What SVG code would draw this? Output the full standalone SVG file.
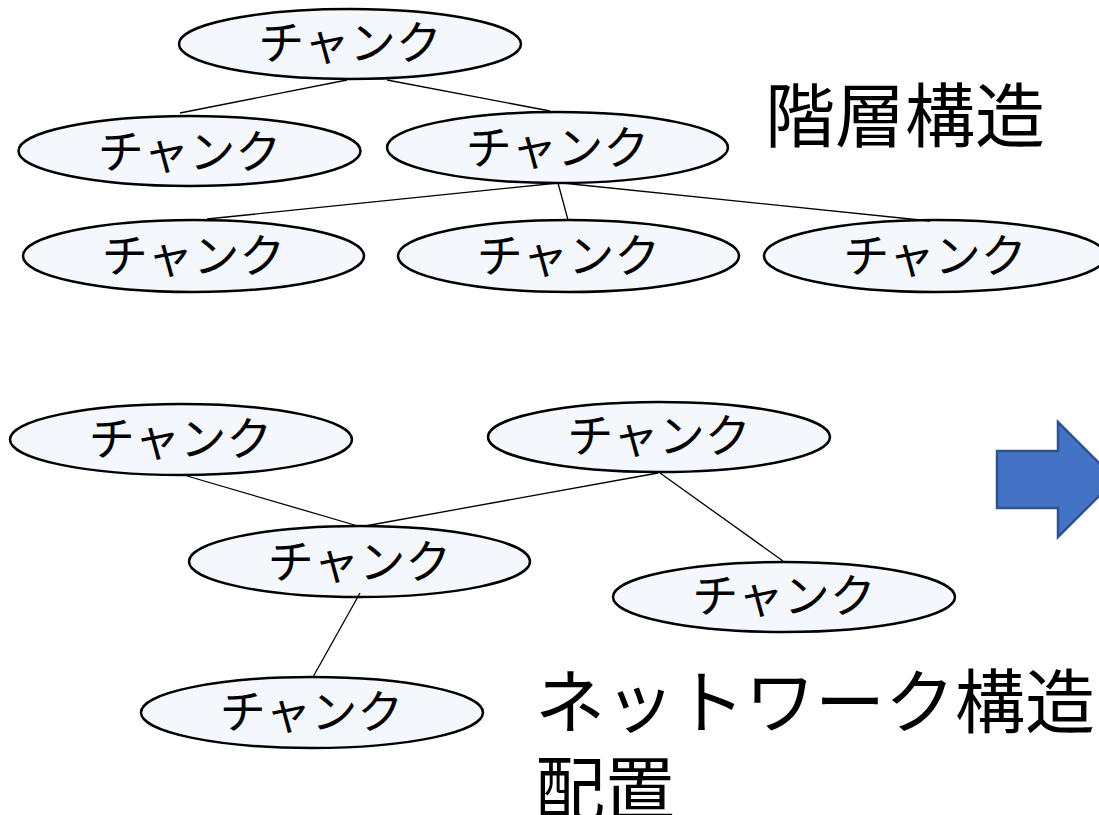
<svg xmlns="http://www.w3.org/2000/svg" width="1099" height="815" viewBox="0 0 1099 815">
<style>
.node ellipse{fill:#f4f7fc;stroke:#000;stroke-width:2.5}
.node text{font-family:"Noto Sans CJK JP","Noto Sans CJK SC",sans-serif;font-size:46px;text-anchor:middle;dominant-baseline:central;fill:#000}
.conn line{stroke:#000;stroke-width:1.3}
.label{font-family:"Noto Sans CJK JP","Noto Sans CJK SC",sans-serif;font-size:70px;fill:#000}
</style>
<rect width="1099" height="815" fill="#fff"/>
<g id="h-top" class="node"><ellipse cx="350" cy="44" rx="171" ry="35"/><text x="350" y="38.5">チャンク</text></g>
<g id="h-2a" class="node"><ellipse cx="189.5" cy="151" rx="171" ry="35"/><text x="189.5" y="147.5">チャンク</text></g>
<g id="h-2b" class="node"><ellipse cx="557.5" cy="147.5" rx="170.5" ry="35.5"/><text x="557.5" y="144">チャンク</text></g>
<g id="h-3a" class="node"><ellipse cx="193.5" cy="256" rx="170.5" ry="36"/><text x="193.5" y="251.5">チャンク</text></g>
<g id="h-3b" class="node"><ellipse cx="568.5" cy="256" rx="170.5" ry="36"/><text x="568.5" y="251.5">チャンク</text></g>
<g id="h-3c" class="node"><ellipse cx="935" cy="256" rx="171" ry="36"/><text x="935" y="251.5">チャンク</text></g>
<g id="n-1" class="node"><ellipse cx="181" cy="439.5" rx="171" ry="35.5"/><text x="180.5" y="434.5">チャンク</text></g>
<g id="n-2" class="node"><ellipse cx="659" cy="437" rx="171" ry="35"/><text x="659" y="432">チャンク</text></g>
<g id="n-3" class="node"><ellipse cx="359.5" cy="561.5" rx="170.5" ry="35.5"/><text x="359.5" y="557.5">チャンク</text></g>
<g id="n-4" class="node"><ellipse cx="784" cy="597" rx="171" ry="35"/><text x="784" y="592">チャンク</text></g>
<g id="n-5" class="node"><ellipse cx="312" cy="712.5" rx="171" ry="35.5"/><text x="311.5" y="707.5">チャンク</text></g>
<g id="connectors" class="conn">
<line x1="347" y1="80" x2="180" y2="113"/>
<line x1="387" y1="80" x2="550" y2="111"/>
<line x1="558" y1="183" x2="207" y2="219"/>
<line x1="558" y1="183" x2="568" y2="220"/>
<line x1="562" y1="183" x2="930" y2="221"/>
<line x1="187" y1="476" x2="358" y2="526"/>
<line x1="365" y1="526" x2="658" y2="473"/>
<line x1="660" y1="473" x2="783" y2="561"/>
<line x1="360" y1="593" x2="313" y2="677"/>
</g>
<g id="label-hierarchy"><text class="label" x="765" y="142">階層構造</text></g>
<g id="label-network"><text class="label" x="535" y="728">ネットワーク構造</text><text class="label" x="535" y="815">配置</text></g>
<g id="arrow"><path d="M997,451 H1058 V422 L1115.5,479.5 L1058,537 V508 H997 Z" fill="#4472c4" stroke="#2f528f" stroke-width="2.5" stroke-linejoin="miter"/></g>
</svg>
